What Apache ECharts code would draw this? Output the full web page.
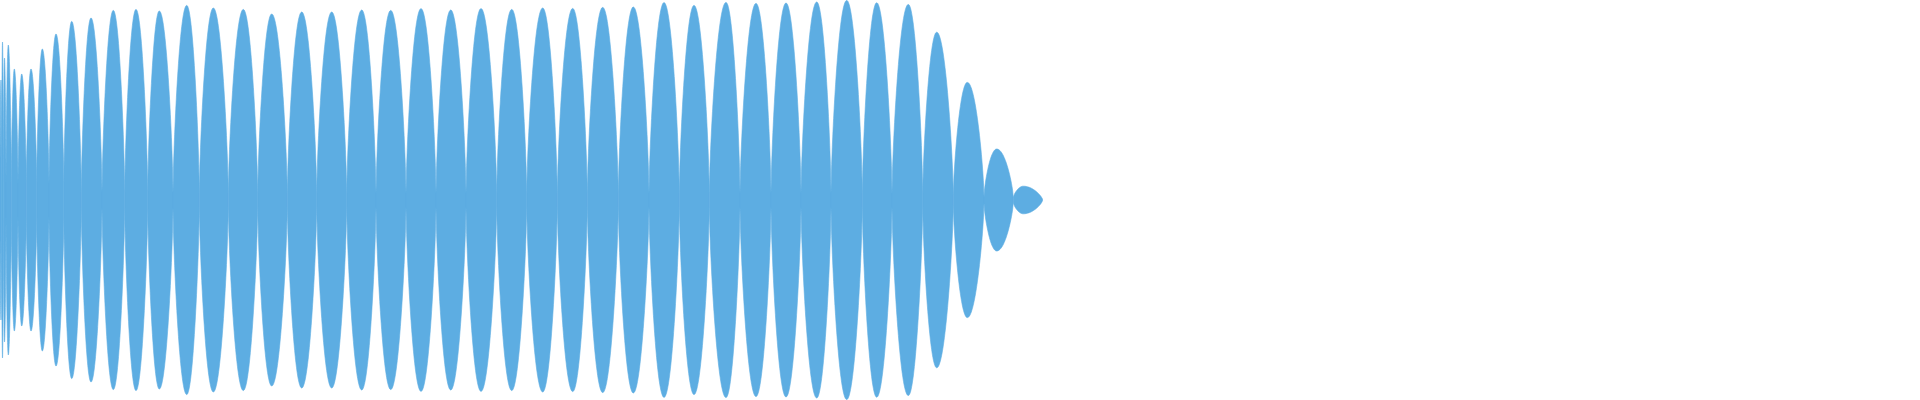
<!DOCTYPE html>
<html>
<head>
<meta charset="utf-8">
<style>
html,body{margin:0;padding:0;background:#fff;}
#chart{width:1920px;height:400px;}
</style>
<script src="https://cdn.jsdelivr.net/npm/echarts@6/dist/echarts.min.js"></script>
</head>
<body>
<div id="chart"></div>
<script>
// Zero crossings (pinch positions) of the waveform envelope, x units
var crossings = [0, 1.6, 3.4, 6.0, 11.3, 18, 26.3, 36.7, 49, 63.8, 81.3, 102, 124.7, 147.7, 173,
  199.3, 228.3, 257.7, 287.3, 316.7, 346.7, 376, 406, 436, 466, 496.7, 526.7, 557.3, 587.3,
  618.3, 649, 679.3, 709.3, 740, 771, 801, 831, 862.3, 892, 922.7, 953.3, 984, 1013.3, 1042.7];
// Peak position of each lobe
var peakX = [1.0, 2.5, 4.5, 8.3, 14.3, 21.7, 31, 42.3, 56, 71.7, 91, 113.3, 136, 159.3, 186.7,
  213.3, 243.3, 271.7, 301.7, 331.7, 361.7, 390.7, 421, 450.7, 481, 511.7, 542.7, 572.7, 602.7,
  633.3, 664, 694, 726, 756, 786, 816.7, 846.7, 876.7, 908.3, 936.7, 967.3, 996.7, 1023.3];
// Peak amplitude of each lobe (axis runs -1..1)
var amplitude = [0.60, 0.79, 0.71, 0.775, 0.655, 0.63, 0.655, 0.755, 0.83, 0.893, 0.91, 0.948, 0.953, 0.945, 0.973,
  0.96, 0.953, 0.93, 0.94, 0.94, 0.95, 0.948, 0.957, 0.95, 0.957, 0.953, 0.96, 0.958, 0.963,
  0.965, 0.987, 0.973, 0.988, 0.983, 0.985, 0.99, 0.998, 0.986, 0.978, 0.839, 0.588, 0.255, 0.069];
// Envelope half-height at each zero crossing
var pinch = [0.15, 0.13, 0.10, 0.09, 0.09, 0.085, 0.085, 0.09, 0.085, 0.09, 0.04, 0.04, 0.04, 0.045, 0.04,
  0.035, 0.035, 0.035, 0.035, 0.035, 0.035, 0.035, 0.035, 0.035, 0.035, 0.035, 0.035, 0.035, 0.035,
  0.035, 0.035, 0.035, 0.035, 0.035, 0.035, 0.035, 0.035, 0.035, 0.035, 0.035, 0.025, 0.017, 0.012, 0.0];

var lobes = [];
for (var i = 0; i < peakX.length; i++) {
  lobes.push([crossings[i], crossings[i + 1], peakX[i], amplitude[i], pinch[i], pinch[i + 1]]);
}

var SHAPE_POWER = 0.7; // envelope curvature of each lobe (style)

function renderLobe(params, api) {
  var s = api.value(0), e = api.value(1), p = api.value(2), a = api.value(3);
  var f0 = api.value(4), f1 = api.value(5);
  var steps = 48;
  var top = [], bottom = [];
  for (var k = 0; k <= steps; k++) {
    var x = s + (e - s) * k / steps;
    var y;
    if (x <= p) {
      var t = p > s ? (x - s) / (p - s) : 1;
      y = f0 + (a - f0) * Math.pow(Math.sin(Math.PI / 2 * t), SHAPE_POWER);
    } else {
      var t2 = e > p ? (e - x) / (e - p) : 1;
      y = f1 + (a - f1) * Math.pow(Math.sin(Math.PI / 2 * t2), SHAPE_POWER);
    }
    top.push(api.coord([x, y]));
    bottom.unshift(api.coord([x, -y]));
  }
  return {
    type: 'polygon',
    shape: { points: top.concat(bottom) },
    style: { fill: '#5dade2', stroke: '#5dade2', lineWidth: 0.6 }
  };
}

var chart = echarts.init(document.getElementById('chart'));
chart.setOption({
  animation: false,
  grid: { left: 0, right: 0, top: 0, bottom: 0 },
  xAxis: { type: 'value', min: 0, max: 1920, show: false },
  yAxis: { type: 'value', min: -1, max: 1, show: false },
  series: [{
    type: 'custom',
    renderItem: renderLobe,
    data: lobes,
    clip: true
  }]
});
</script>
</body>
</html>
